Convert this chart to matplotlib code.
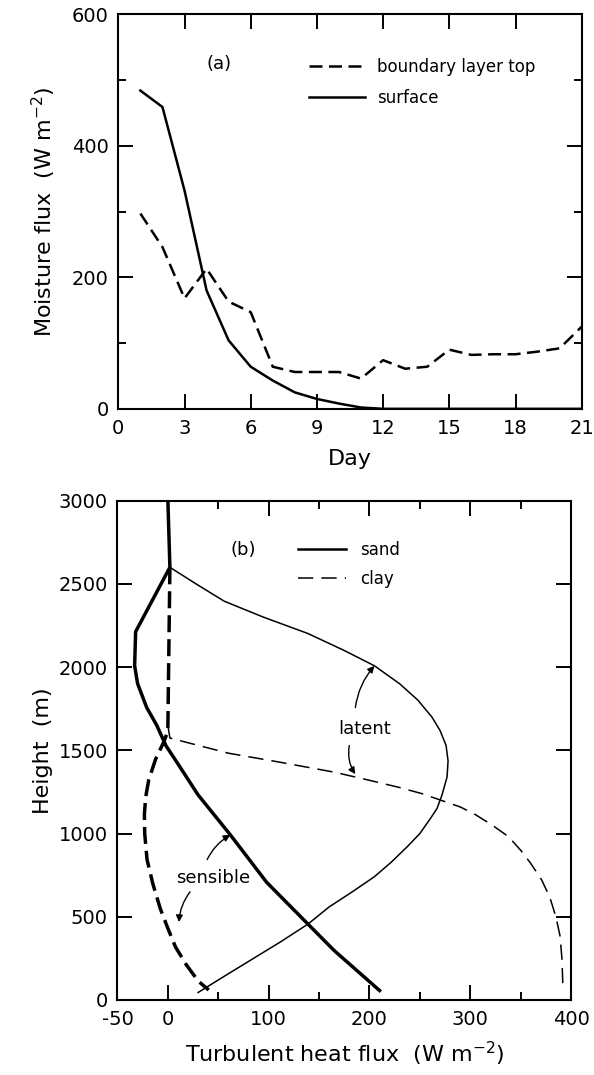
import matplotlib
matplotlib.use("Agg")
import matplotlib.pyplot as plt
from matplotlib.ticker import MultipleLocator

plt.rcParams['font.family'] = ['DejaVu Sans']
plt.rcParams['axes.unicode_minus'] = False

# ---------------- data: panel (a) ----------------
days = [1, 2, 3, 4, 5, 6, 7, 8, 9, 10, 11, 12, 13, 14, 15, 16, 17, 18, 19, 20, 21]
blt_flux = [297, 246, 168, 213, 163, 147, 64, 56, 56, 56, 46, 74, 61, 64, 90, 82, 83, 83, 87, 92, 125]
surface_flux = [484, 459, 332, 180, 104, 64, 43, 25, 15, 8, 2, 0, 0, 0, 0, 0, 0, 0, 0, 0, 0]

# ---------------- data: panel (b) ----------------
sand_sens_h = [3000, 2600, 2213, 2008, 1900, 1757, 1650, 1529, 1400, 1232, 992, 707, 456, 297, 57]
sand_sens_f = [0, 2, -32, -33, -30, -21, -11, -2, 12, 30, 62, 98, 139, 165, 210]

sand_lat_h = [2600, 2500, 2396, 2300, 2202, 2100, 2008, 1900, 1802, 1700, 1620, 1530, 1437,
              1340, 1232, 1150, 1095, 1000, 924, 830, 741, 650, 559, 456, 350, 250, 150, 45]
sand_lat_f = [2, 28, 56, 95, 139, 175, 205, 230, 248, 262, 270, 276, 278,
              277, 272, 267, 261, 250, 238, 222, 205, 183, 160, 139, 112, 85, 58, 30]

clay_sens_h = [2600, 1643, 1600, 1551, 1450, 1323, 1220, 1118, 1000, 844, 700, 548, 430, 319, 214, 114, 60]
clay_sens_f = [2, 0, -1, -4, -12, -19, -22, -23.3, -23, -20.7, -15, -7.5, 0, 7.5, 18, 30, 40.5]

clay_lat_h = [1650, 1574, 1530, 1483, 1430, 1369, 1320, 1278, 1240, 1198, 1160, 1118, 1050,
              981, 900, 821, 720, 616, 500, 388, 250, 68]
clay_lat_f = [0, 2, 30, 60, 110, 165, 200, 229, 252, 272, 290, 304, 322,
              338, 350, 360, 371, 379, 385, 389, 391, 392]

fig = plt.figure(figsize=(5.94, 10.75), dpi=100)

def style_axes(ax):
    for s in ax.spines.values():
        s.set_linewidth(1.5)
    ax.tick_params(which='both', direction='in', top=True, right=True, width=1.4, labelsize=14, pad=7)
    ax.tick_params(which='major', length=11)
    ax.tick_params(which='minor', length=5.5)

# ---------------- panel (a) ----------------
axa = fig.add_axes([0.1992, 0.6197, 0.7801, 0.367])
axa.plot(days, blt_flux, color='black', lw=1.8, linestyle=(0, (5.2, 2.6)), label='boundary layer top')
axa.plot(days, surface_flux, color='black', lw=1.8, label='surface')
axa.set_xlim(0, 21)
axa.set_ylim(0, 600)
axa.xaxis.set_major_locator(MultipleLocator(3))
axa.yaxis.set_major_locator(MultipleLocator(200))
axa.yaxis.set_minor_locator(MultipleLocator(100))
style_axes(axa)
axa.set_xlabel('Day', fontsize=16, labelpad=8)
axa.set_ylabel('Moisture flux  (W m$^{-2}$)', fontsize=16, labelpad=10)
axa.text(4.56, 525, '(a)', fontsize=13, ha='center', va='center')
lega = axa.legend(loc='center left', bbox_to_anchor=(0.411, 0.827), frameon=False,
                  fontsize=12, handlelength=3.4, handletextpad=0.7, labelspacing=0.75,
                  borderpad=0, borderaxespad=0)

# ---------------- panel (b) ----------------
axb = fig.add_axes([0.1978, 0.0698, 0.7635, 0.4644])
l_sand, = axb.plot(sand_sens_f, sand_sens_h, color='black', lw=2.5, label='sand')
axb.plot(sand_lat_f, sand_lat_h, color='black', lw=1.1)
axb.plot(clay_sens_f, clay_sens_h, color='black', lw=2.5, linestyle=(0, (4.9, 2.0)))
l_clay, = axb.plot(clay_lat_f, clay_lat_h, color='black', lw=1.1, linestyle=(0, (10, 5.3)), label='clay')
axb.set_xlim(-50, 400)
axb.set_ylim(0, 3000)
axb.set_xticks([-50, 0, 100, 200, 300, 400])
axb.xaxis.set_minor_locator(MultipleLocator(50))
axb.yaxis.set_major_locator(MultipleLocator(500))
style_axes(axb)
axb.set_xlabel('Turbulent heat flux  (W m$^{-2}$)', fontsize=16, labelpad=8)
axb.set_ylabel('Height  (m)', fontsize=16, labelpad=4)
axb.text(75, 2704, '(b)', fontsize=13, ha='center', va='center')
legb = axb.legend(handles=[l_sand, l_clay], loc='center left', bbox_to_anchor=(0.398, 0.872),
                  frameon=False, fontsize=12, handlelength=2.9, handletextpad=0.8,
                  labelspacing=0.65, borderpad=0, borderaxespad=0)
legb.get_lines()[0].set_linewidth(1.8)

# annotations
axb.text(195, 1631, 'latent', fontsize=13, ha='center', va='center')
axb.text(45, 730, 'sensible', fontsize=13, ha='center', va='center')
arrow = dict(arrowstyle='-|>', color='black', lw=1.0, mutation_scale=10, shrinkA=0, shrinkB=0)
axb.annotate('', xy=(205, 2008), xytext=(186, 1757),
             arrowprops=dict(arrow, connectionstyle='arc3,rad=-0.15'))
axb.annotate('', xy=(186, 1357), xytext=(180, 1529),
             arrowprops=dict(arrow, connectionstyle='arc3,rad=0.2'))
axb.annotate('', xy=(62, 992), xytext=(39, 844),
             arrowprops=dict(arrow, connectionstyle='arc3,rad=-0.15'))
axb.annotate('', xy=(11, 468), xytext=(22, 650),
             arrowprops=dict(arrow, connectionstyle='arc3,rad=0.15'))

fig.savefig('out.png', dpi=100)
